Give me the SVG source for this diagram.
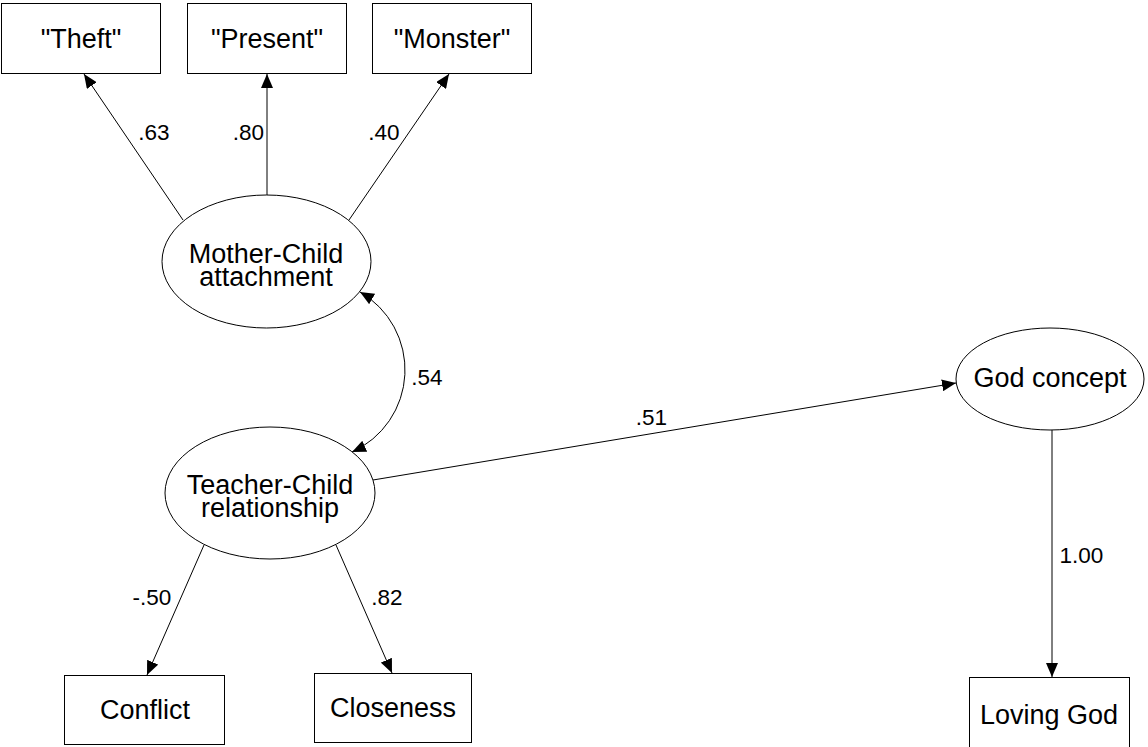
<svg xmlns="http://www.w3.org/2000/svg" width="1148" height="747" viewBox="0 0 1148 747">
<style>
.box{fill:#fff;stroke:#000;stroke-width:1}
.ell{fill:#fff;stroke:#000;stroke-width:1}
.nt{font-family:"Liberation Sans",Arial,sans-serif;font-size:27px;fill:#000;text-anchor:middle}
.lb{font-family:"Liberation Sans",Arial,sans-serif;font-size:22.5px;fill:#000;text-anchor:middle}
.ln{fill:none;stroke:#000;stroke-width:1}
</style>
<defs>
<marker id="arr" markerWidth="14" markerHeight="12" refX="14" refY="6" orient="auto-start-reverse" markerUnits="userSpaceOnUse">
<path d="M0,0 L14,6 L0,12 z" fill="#000"/>
</marker>
</defs>
<rect width="1148" height="747" fill="#fff"/>
<g id="connectors">
<path class="ln" d="M183,220 L84,74" marker-end="url(#arr)"/>
<path class="ln" d="M267,195 L267,74" marker-end="url(#arr)"/>
<path class="ln" d="M349,220 L449,74" marker-end="url(#arr)"/>
<path class="ln" d="M360,292 A90,90 0 0 1 352,452" marker-start="url(#arr)" marker-end="url(#arr)"/>
<path class="ln" d="M204,545 L147,675" marker-end="url(#arr)"/>
<path class="ln" d="M336,545 L392,673" marker-end="url(#arr)"/>
<path class="ln" d="M373,480 L956,383" marker-end="url(#arr)"/>
<path class="ln" d="M1052,430 L1052,677" marker-end="url(#arr)"/>
<text class="lb" x="154" y="140">.63</text>
<text class="lb" x="248.5" y="140">.80</text>
<text class="lb" x="384" y="140">.40</text>
<text class="lb" x="427" y="385">.54</text>
<text class="lb" x="651.5" y="425">.51</text>
<text class="lb" x="1081.5" y="563">1.00</text>
<text class="lb" x="152" y="605">-.50</text>
<text class="lb" x="387" y="605">.82</text>
</g>
<g id="theft">
<rect class="box" x="1.5" y="3.5" width="159" height="70"/>
<text class="nt" x="81" y="48">"Theft"</text>
</g>
<g id="present">
<rect class="box" x="187.5" y="3.5" width="159" height="70"/>
<text class="nt" x="267" y="48">"Present"</text>
</g>
<g id="monster">
<rect class="box" x="372.5" y="3.5" width="159" height="70"/>
<text class="nt" x="452" y="48">"Monster"</text>
</g>
<g id="mother-child">
<ellipse class="ell" cx="266.5" cy="261.5" rx="104.5" ry="66.5"/>
<text class="nt" x="266" y="263">Mother-Child</text>
<text class="nt" x="266" y="286">attachment</text>
</g>
<g id="teacher-child">
<ellipse class="ell" cx="270" cy="493" rx="105" ry="66"/>
<text class="nt" x="270" y="494">Teacher-Child</text>
<text class="nt" x="270" y="517">relationship</text>
</g>
<g id="god-concept">
<ellipse class="ell" cx="1050" cy="379" rx="94" ry="51"/>
<text class="nt" x="1050" y="387">God concept</text>
</g>
<g id="conflict">
<rect class="box" x="64.5" y="675.5" width="160" height="69"/>
<text class="nt" x="145" y="719">Conflict</text>
</g>
<g id="closeness">
<rect class="box" x="314.5" y="673.5" width="157" height="69"/>
<text class="nt" x="393" y="717">Closeness</text>
</g>
<g id="loving-god">
<rect class="box" x="969.5" y="677.5" width="160" height="72"/>
<text class="nt" x="1049" y="724">Loving God</text>
</g>
</svg>
